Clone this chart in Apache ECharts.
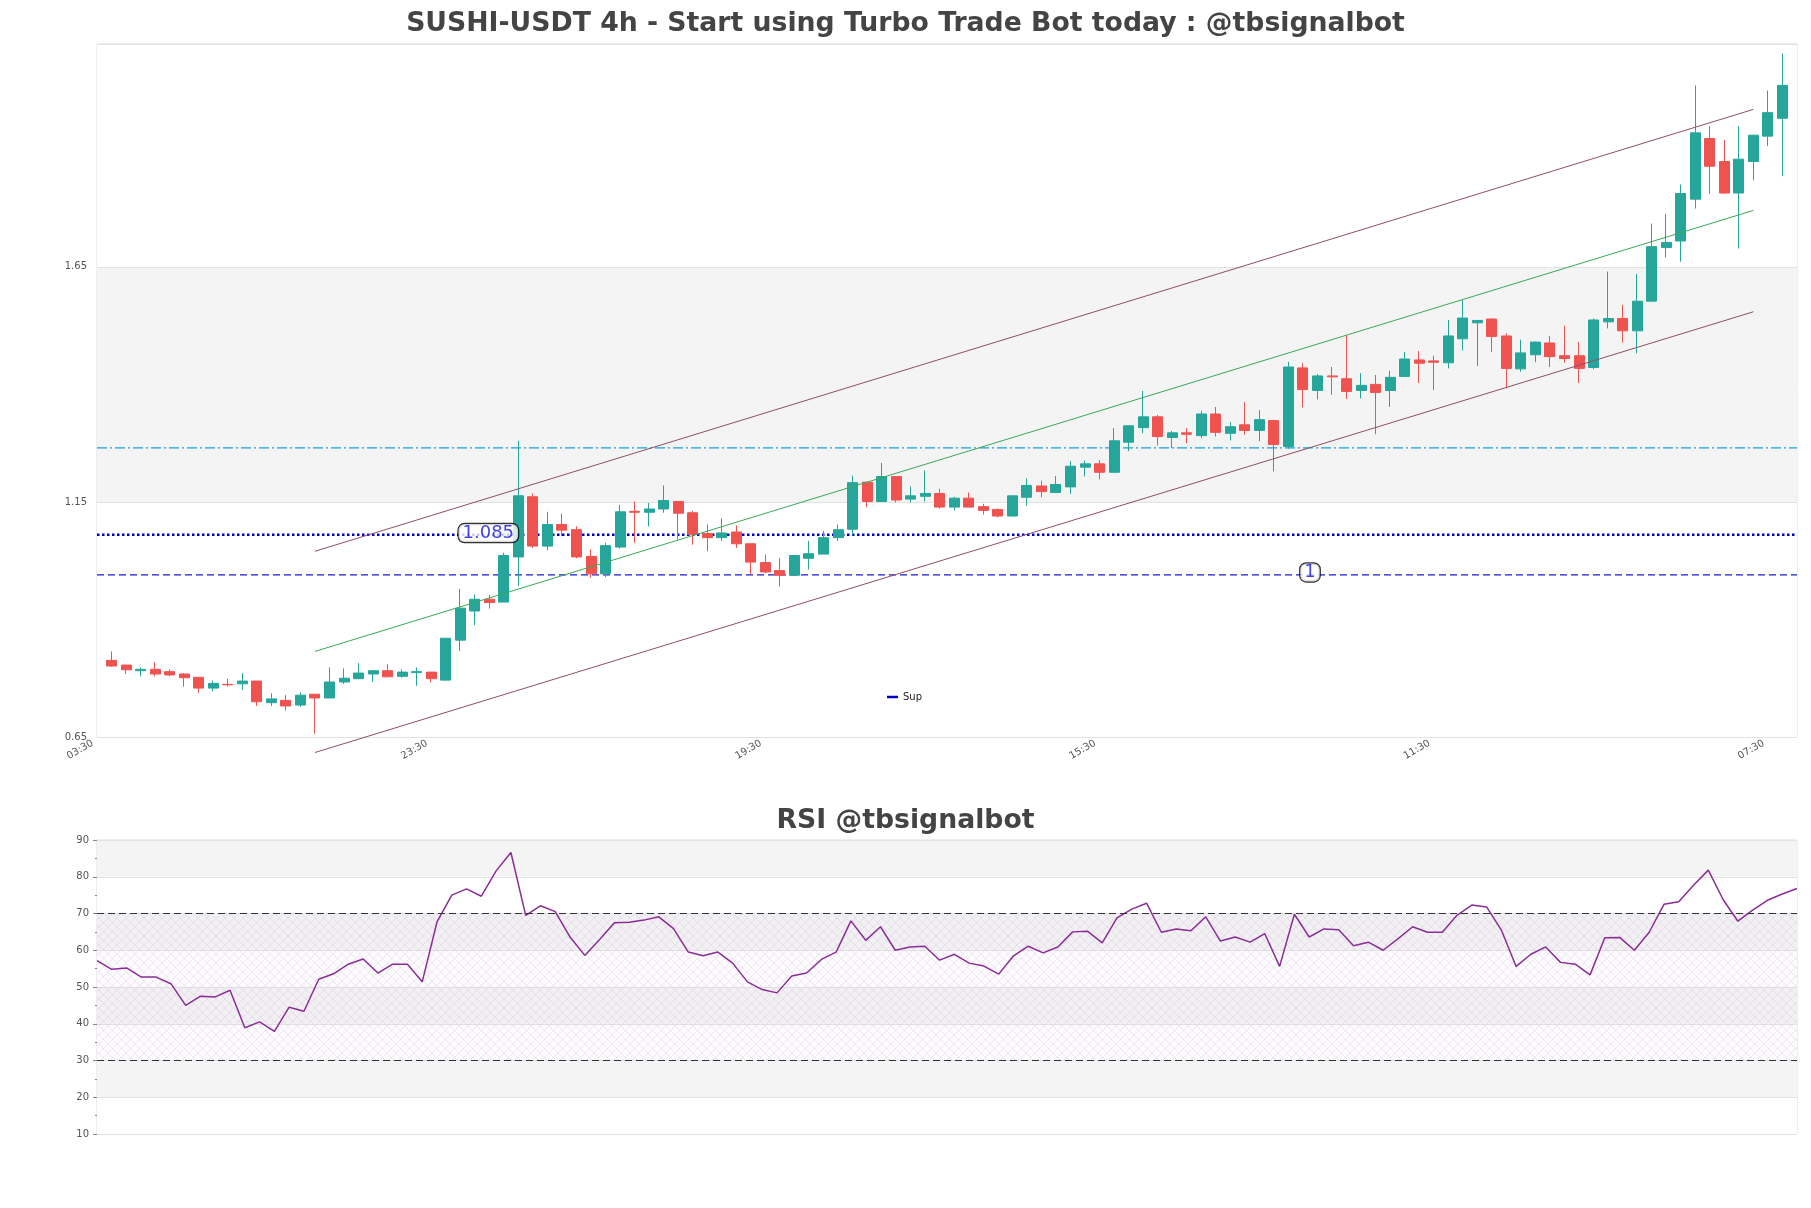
<!DOCTYPE html>
<html><head><meta charset="utf-8">
<script src="https://cdn.jsdelivr.net/npm/echarts@6/dist/echarts.min.js"></script>
<style>html,body{margin:0;padding:0;background:#fff}#c{width:1811px;height:1208px}</style>
</head><body><div id="c"></div>
<script>
// ---- data ----
const tickLabels = ['03:30', '23:30', '19:30', '15:30', '11:30', '07:30'];
const tickEvery = 23;

const opens = [0.813,0.803,0.791,0.794,0.789,0.784,0.777,0.754,0.762,0.763,
  0.769,0.723,0.728,0.718,0.741,0.733,0.767,0.774,0.784,0.791,
  0.779,0.787,0.788,0.771,0.856,0.918,0.943,0.937,1.033,1.161,
  1.056,1.102,1.091,1.034,0.997,1.054,1.130,1.128,1.135,1.151,
  1.127,1.083,1.074,1.086,1.061,1.021,1.004,0.994,1.030,1.039,
  1.074,1.092,1.192,1.151,1.204,1.156,1.162,1.168,1.139,1.158,
  1.140,1.134,1.120,1.160,1.184,1.170,1.182,1.224,1.231,1.213,
  1.277,1.308,1.331,1.287,1.297,1.291,1.337,1.296,1.314,1.302,
  1.323,1.268,1.435,1.387,1.418,1.412,1.387,1.400,1.387,1.417,
  1.452,1.450,1.446,1.497,1.531,1.539,1.503,1.433,1.463,1.488,
  1.461,1.461,1.436,1.533,1.540,1.514,1.577,1.691,1.705,1.794,
  1.923,1.874,1.807,1.874,1.928,1.966];
const closes = [0.801,0.793,0.794,0.784,0.782,0.776,0.754,0.764,0.761,0.769,
  0.725,0.731,0.716,0.739,0.733,0.767,0.775,0.786,0.791,0.778,
  0.788,0.789,0.774,0.860,0.924,0.943,0.936,1.036,1.163,1.056,
  1.102,1.090,1.033,0.997,1.057,1.129,1.128,1.135,1.153,1.126,
  1.081,1.074,1.084,1.061,1.022,1.001,0.994,1.036,1.040,1.074,
  1.091,1.191,1.151,1.204,1.154,1.163,1.168,1.139,1.158,1.139,
  1.132,1.120,1.163,1.185,1.172,1.187,1.226,1.231,1.213,1.280,
  1.312,1.331,1.289,1.297,1.294,1.337,1.298,1.310,1.302,1.325,
  1.272,1.437,1.389,1.418,1.416,1.385,1.398,1.383,1.415,1.454,
  1.445,1.447,1.503,1.541,1.536,1.502,1.434,1.467,1.490,1.459,
  1.455,1.434,1.537,1.540,1.514,1.577,1.693,1.702,1.806,1.935,
  1.864,1.807,1.879,1.930,1.978,2.036];
const lows = [0.799,0.784,0.779,0.779,0.779,0.757,0.744,0.747,0.757,0.750,
  0.716,0.716,0.706,0.714,0.657,0.733,0.763,0.773,0.767,0.778,
  0.776,0.759,0.766,0.771,0.833,0.888,0.923,0.937,0.971,1.052,
  1.047,1.077,1.030,0.989,0.990,1.051,1.063,1.098,1.127,1.070,
  1.059,1.045,1.067,1.052,0.996,0.998,0.970,0.994,1.006,1.039,
  1.067,1.079,1.139,1.151,1.149,1.149,1.151,1.136,1.132,1.139,
  1.123,1.117,1.120,1.142,1.160,1.170,1.167,1.204,1.198,1.213,
  1.258,1.296,1.270,1.265,1.275,1.286,1.289,1.281,1.293,1.279,
  1.215,1.263,1.351,1.368,1.378,1.369,1.370,1.294,1.352,1.417,
  1.403,1.388,1.434,1.472,1.439,1.469,1.392,1.427,1.447,1.437,
  1.446,1.403,1.432,1.519,1.489,1.466,1.577,1.670,1.661,1.774,
  1.805,1.806,1.689,1.834,1.907,1.843];
const highs = [0.832,0.803,0.798,0.809,0.794,0.786,0.777,0.770,0.774,0.786,
  0.769,0.743,0.739,0.745,0.741,0.798,0.796,0.807,0.791,0.805,
  0.794,0.798,0.788,0.860,0.965,0.953,0.952,1.042,1.280,1.168,
  1.129,1.125,1.098,1.049,1.063,1.144,1.151,1.148,1.185,1.151,
  1.131,1.102,1.115,1.100,1.061,1.038,1.031,1.036,1.067,1.088,
  1.102,1.206,1.192,1.233,1.204,1.183,1.217,1.178,1.161,1.170,
  1.146,1.136,1.163,1.200,1.195,1.205,1.237,1.238,1.239,1.307,
  1.312,1.386,1.335,1.301,1.307,1.344,1.352,1.320,1.362,1.345,
  1.325,1.448,1.445,1.422,1.437,1.504,1.424,1.420,1.429,1.469,
  1.471,1.461,1.537,1.579,1.536,1.541,1.509,1.495,1.491,1.503,
  1.525,1.490,1.540,1.640,1.569,1.635,1.742,1.763,1.825,2.036,
  1.949,1.920,1.949,1.931,2.025,2.104];

const rsiValues = [57.2,54.8,55.2,52.7,52.7,50.9,45.0,47.5,47.3,49.1,
  38.9,40.5,37.9,44.5,43.4,52.1,53.6,56.2,57.6,53.8,
  56.2,56.2,51.4,67.7,75.0,76.7,74.7,81.6,86.6,69.5,
  72.1,70.5,63.6,58.6,62.9,67.5,67.6,68.2,69.1,65.9,
  59.5,58.5,59.5,56.5,51.4,49.3,48.4,53.0,53.8,57.5,
  59.5,68.0,62.7,66.4,60.0,60.9,61.1,57.3,58.9,56.5,
  55.7,53.5,58.5,61.1,59.3,60.9,65.0,65.2,62.0,68.8,
  71.2,72.8,64.9,65.8,65.3,69.1,62.5,63.6,62.2,64.5,
  55.6,69.8,63.6,65.8,65.6,61.2,62.2,60.0,63.1,66.4,
  64.9,64.9,69.5,72.3,71.8,65.5,55.6,58.9,60.9,56.7,
  56.2,53.3,63.4,63.5,60.0,64.9,72.5,73.2,77.7,81.8,
  73.8,67.9,70.9,73.6,75.3,76.8];

const supLevel = 1.08;       // dotted support
const lowLevel = 0.995;      // dashed level
const resLevel = 1.265;      // dash-dot level
const levelTexts = ['1.085', '1'];
const levelTextPos = [[26, 1.0838], [82, 1.0]];   // candle index, price
const levelTextShift = [[-1, 0], [7, 0]];
const channelIdx = [14, 113];
const channelUpper = [1.045, 1.985];
const channelMid = [0.832, 1.770];
const channelLower = [0.617, 1.5545];
const rsiBands = [30, 70];

// ---- build ----
const n = opens.length;
const cats = [];
for (let i = 0; i < n + 2; i++) cats.push(String(i));
const candleData = ['-'];
for (let i = 0; i < n; i++) candleData.push([opens[i], closes[i], lows[i], highs[i]]);
candleData.push('-');
const X = k => k + 1; // candle index -> category position
const last = n + 1;

const rsiCats = rsiValues.map((_, i) => String(i));

const hatch = document.createElement('canvas');
hatch.width = 9; hatch.height = 9;
const g = hatch.getContext('2d');
g.fillStyle = 'rgba(220,205,235,0.07)'; g.fillRect(0, 0, 9, 9);
g.strokeStyle = 'rgba(175,165,195,0.38)'; g.lineWidth = 0.6;
g.beginPath(); g.moveTo(0, 0); g.lineTo(9, 9); g.moveTo(9, 0); g.lineTo(0, 9); g.stroke();

const FONT = 'DejaVu Sans';
const chart = echarts.init(document.getElementById('c'), null, {renderer: 'canvas'});

function hline(name, v, color, type, width) {
  return {name, type: 'line', xAxisIndex: 0, yAxisIndex: 0, data: [[0, v], [last, v]],
    symbol: 'none', silent: true, z: 1, lineStyle: {color, type, width}, itemStyle: {color}, animation: false};
}
function chline(vals, color) {
  return {type: 'line', xAxisIndex: 0, yAxisIndex: 0, clip: false,
    data: [[X(channelIdx[0]), vals[0]], [X(channelIdx[1]), vals[1]]],
    symbol: 'none', silent: true, z: 4, lineStyle: {color, width: 1}, animation: false};
}

chart.setOption({
  animation: false,
  backgroundColor: '#fff',
  textStyle: {fontFamily: FONT},
  title: [
    {text: 'SUSHI-USDT 4h - Start using Turbo Trade Bot today : @tbsignalbot', left: 'center', top: 11, padding: 0,
     textStyle: {fontFamily: FONT, fontSize: 26.7, fontWeight: 'bold', color: '#444'}},
    {text: 'RSI @tbsignalbot', left: 'center', top: 808, padding: 0,
     textStyle: {fontFamily: FONT, fontSize: 26.7, fontWeight: 'bold', color: '#444'}}
  ],
  legend: {data: ['Sup'], left: 882, top: 687, icon: 'rect', itemWidth: 11, itemHeight: 2.5, itemGap: 5,
    textStyle: {fontFamily: FONT, fontSize: 10, color: '#222'}, selectedMode: false},
  grid: [
    {left: 97, top: 44, width: 1700, height: 693, show: true, borderColor: '#ddd', borderWidth: 1, backgroundColor: 'transparent'},
    {left: 97, top: 840, width: 1700, height: 294, show: true, borderColor: '#ddd', borderWidth: 1, backgroundColor: 'transparent'}
  ],
  xAxis: [
    {type: 'category', gridIndex: 0, data: cats, boundaryGap: false,
     axisLine: {show: false}, axisTick: {show: false}, splitLine: {show: false},
     axisLabel: {interval: i => i % tickEvery === 0, rotate: 30, margin: 3, padding: [0, 5, 0, 0], fontSize: 10, color: '#555', fontFamily: FONT,
       formatter: (v, i) => (i % tickEvery === 0 && tickLabels[i / tickEvery]) ? tickLabels[i / tickEvery] : ''}},
    {type: 'category', gridIndex: 1, data: rsiCats, boundaryGap: false,
     axisLine: {show: false}, axisTick: {show: false}, axisLabel: {show: false}, splitLine: {show: false}}
  ],
  yAxis: [
    {type: 'value', gridIndex: 0, min: 0.65, max: 2.124, interval: 0.5,
     axisLine: {show: false}, axisTick: {show: false},
     axisLabel: {showMaxLabel: false, margin: 10, fontSize: 10, color: '#555', fontFamily: FONT, formatter: v => v.toFixed(2)},
     splitLine: {show: true, lineStyle: {color: '#e2e2e2', width: 1}},
     splitArea: {show: true, areaStyle: {color: ['#ffffff', '#f4f4f4']}}},
    {type: 'value', gridIndex: 1, min: 10, max: 90, interval: 10,
     axisLine: {show: false},
     axisTick: {show: true, length: 4, lineStyle: {color: '#888'}},
     minorTick: {show: true, splitNumber: 2, length: 2, lineStyle: {color: '#888'}},
     axisLabel: {margin: 8, fontSize: 10, color: '#555', fontFamily: FONT},
     splitLine: {show: true, lineStyle: {color: '#e2e2e2', width: 1}},
     splitArea: {show: true, areaStyle: {color: ['#ffffff', '#f4f4f4']}}}
  ],
  series: [
    hline('Res', resLevel, '#16a2dc', [10, 3, 2, 3], 1.2),
    hline('Low', lowLevel, '#1a1ad2', [7, 4], 1.2),
    hline('Sup', supLevel, '#0000cc', 'dotted', 2.5),
    {type: 'candlestick', name: 'price', xAxisIndex: 0, yAxisIndex: 0, data: candleData, barWidth: 10.5, z: 3,
     itemStyle: {color: '#26a69a', color0: '#ef5350', borderColor: '#26a69a', borderColor0: '#ef5350', borderWidth: 1}},
    chline(channelUpper, '#8f4f64'),
    chline(channelMid, '#3aa85a'),
    chline(channelLower, '#8f4f64'),
    {type: 'scatter', xAxisIndex: 0, yAxisIndex: 0, z: 6, symbolSize: 1, silent: true,
     itemStyle: {color: 'transparent'},
     data: levelTextPos.map((p, i) => ({value: [X(p[0]), p[1]], label: {formatter: levelTexts[i], offset: levelTextShift[i]}})),
     label: {show: true, position: 'inside', fontSize: 18, fontFamily: FONT, color: '#1010e0', lineHeight: 17,
       backgroundColor: '#fff', borderColor: '#000', borderWidth: 1.2, borderRadius: 6, padding: [1, 4, 0, 4]}},
    {type: 'line', name: 'RSI', xAxisIndex: 1, yAxisIndex: 1, data: rsiValues, symbol: 'none', z: 3,
     lineStyle: {color: '#8b2d96', width: 1.5},
     markArea: {silent: true, itemStyle: {color: {image: hatch, repeat: 'repeat'}},
       data: [[{yAxis: rsiBands[0]}, {yAxis: rsiBands[1]}]]},
     markLine: {silent: true, symbol: 'none', label: {show: false},
       lineStyle: {color: '#333', type: [7, 4], width: 1.2},
       data: rsiBands.map(v => ({yAxis: v}))}}
  ]
});
</script></body></html>
